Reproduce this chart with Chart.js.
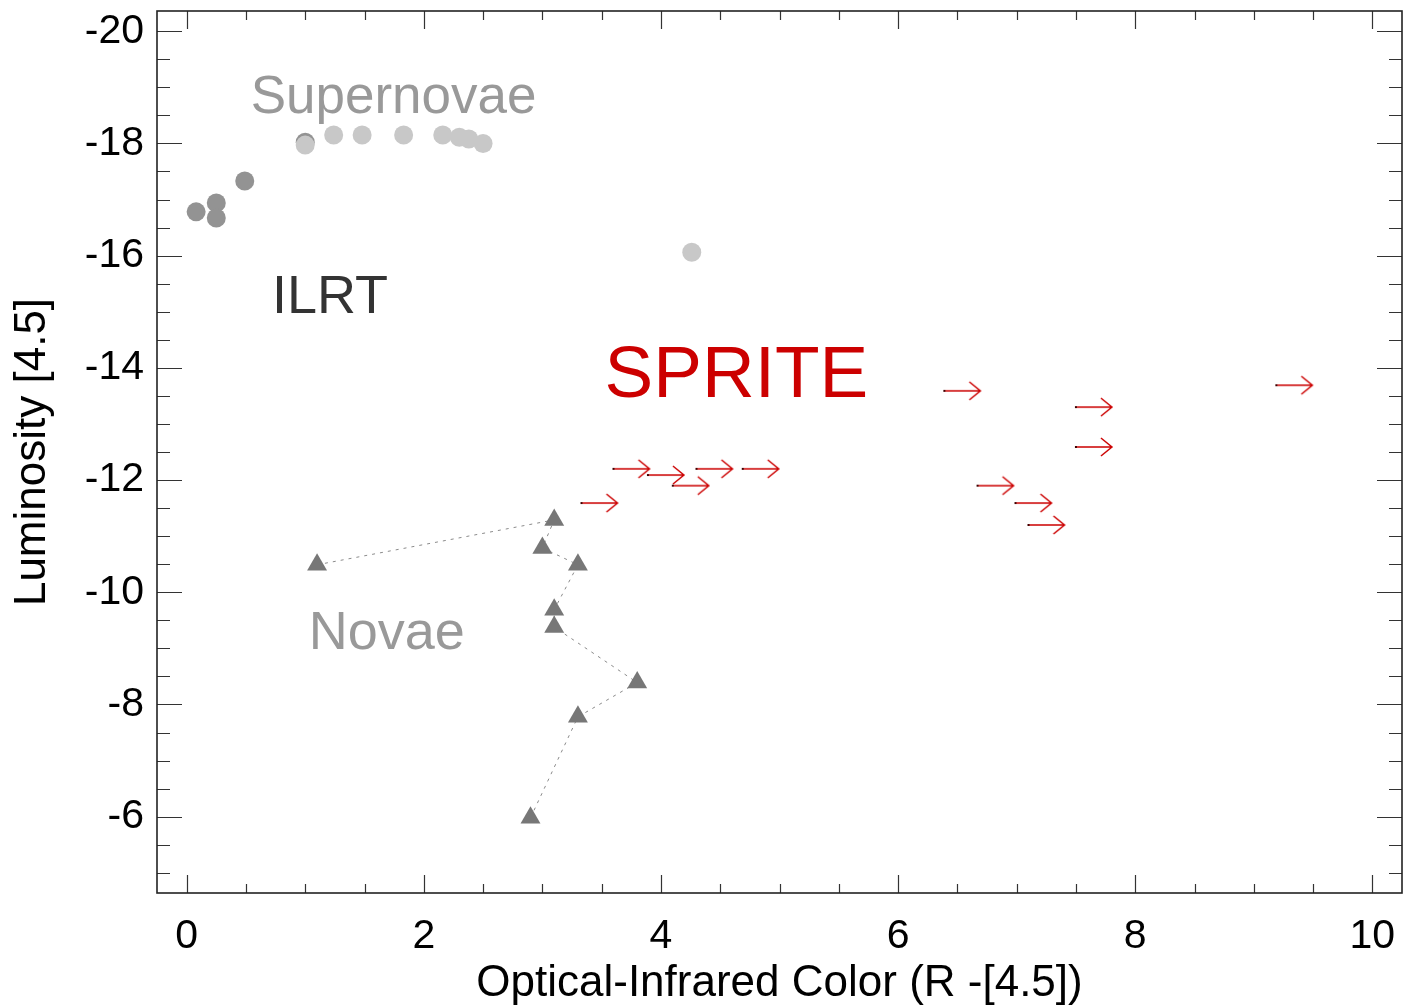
<!DOCTYPE html>
<html>
<head>
<meta charset="utf-8">
<script src="https://cdn.jsdelivr.net/npm/chart.js@4.4.0/dist/chart.umd.min.js"></script>
<style>
  html, body { margin: 0; padding: 0; background: #fff; }
  #wrap { width: 1405px; height: 1008px; }
</style>
</head>
<body>
<div id="wrap"><canvas id="cmd"></canvas></div>
<script>
// ---- data ----
const ilrtColor = [0.08, 0.25, 0.25, 0.49, 1.0];
const ilrtLum   = [-16.78, -16.94, -16.67, -17.33, -18.02];

const snColor = [1.0, 1.24, 1.48, 1.83, 2.16, 2.30, 2.38, 2.50, 4.26];
const snLum   = [-17.97, -18.15, -18.15, -18.15, -18.15, -18.11, -18.08, -18.0, -16.06];

const novaColor = [1.10, 3.10, 3.00, 3.30, 3.10, 3.10, 3.80, 3.30, 2.90];
const novaLum   = [-10.49, -11.29, -10.79, -10.49, -9.69, -9.38, -8.39, -7.78, -5.98];

// SPRITE lower limits on colour (arrow tails)
const spriteColor = [3.33, 3.60, 3.89, 4.10, 4.30, 4.69, 6.39, 6.67, 6.99, 7.10, 7.50, 7.50, 9.19];
const spriteLum   = [-11.59, -12.20, -12.09, -11.90, -12.20, -12.20, -13.59, -11.90, -11.59, -11.20, -13.30, -12.59, -13.69];

const xTicks = [0, 2, 4, 6, 8, 10];
const yTicks = [-20, -18, -16, -14, -12, -10, -8, -6];

// text labels on the plot: [text, x, y, colour, size]
const labels = [
  ['Supernovae', 0.54, -18.55, '#999999', 53],
  ['ILRT',       0.72, -14.98, '#333333', 54],
  ['SPRITE',     3.525, -13.48, '#cc0000', 73],
  ['Novae',      1.03, -8.99,  '#999999', 54]
];

const FONT = '"Liberation Sans", Helvetica, Arial, sans-serif';

function toPoints(xs, ys) {
  return xs.map((x, i) => ({ x: x, y: ys[i] }));
}

// arrow sprite: point sits at the tail, arrow runs to the right
function makeArrow() {
  const len = 36;
  const c = document.createElement('canvas');
  c.width = (len + 3) * 2;
  c.height = 24;
  const g = c.getContext('2d');
  const cx = c.width / 2, cy = c.height / 2;
  g.strokeStyle = '#cc0000';
  g.lineWidth = 1.5;
  g.beginPath();
  g.moveTo(cx, cy);
  g.lineTo(cx + len, cy);
  g.moveTo(cx + len - 11, cy - 9);
  g.lineTo(cx + len, cy);
  g.lineTo(cx + len - 11, cy + 9);
  g.stroke();
  g.fillStyle = '#400000';
  g.fillRect(cx - 1, cy - 1, 2, 2);
  return c;
}

// box frame with inward ticks on all four sides
const framePlugin = {
  id: 'frame',
  afterDatasetsDraw(chart) {
    const ctx = chart.ctx;
    const a = chart.chartArea;
    const xs = chart.scales.x, ys = chart.scales.y;
    ctx.save();
    ctx.strokeStyle = '#333';
    ctx.lineWidth = 1.2;
    ctx.beginPath();
    for (let v = 0; v <= 10.001; v += 0.5) {
      const px = Math.round(xs.getPixelForValue(v)) + 0.5;
      const L = (Math.abs(v % 2) < 1e-6) ? 18 : 9;
      ctx.moveTo(px, a.bottom); ctx.lineTo(px, a.bottom - L);
      ctx.moveTo(px, a.top);    ctx.lineTo(px, a.top + L);
    }
    for (let v = -20; v <= -5 + 1e-6; v += 0.5) {
      const py = Math.round(ys.getPixelForValue(v)) + 0.5;
      const L = (Math.abs(v % 2) < 1e-6) ? 25 : 13;
      ctx.moveTo(a.left, py);  ctx.lineTo(a.left + L, py);
      ctx.moveTo(a.right, py); ctx.lineTo(a.right - L, py);
    }
    ctx.stroke();
    ctx.lineWidth = 1.6;
    ctx.strokeStyle = '#222';
    ctx.strokeRect(a.left, a.top, a.right - a.left, a.bottom - a.top);

    // region labels
    ctx.textAlign = 'left';
    ctx.textBaseline = 'alphabetic';
    labels.forEach(l => {
      ctx.fillStyle = l[3];
      ctx.font = l[4] + 'px ' + FONT;
      ctx.fillText(l[0], xs.getPixelForValue(l[1]), ys.getPixelForValue(l[2]));
    });
    ctx.restore();
  }
};

new Chart(document.getElementById('cmd').getContext('2d'), {
  type: 'scatter',
  data: {
    datasets: [
      {
        label: 'SPRITE',
        data: toPoints(spriteColor, spriteLum),
        pointStyle: makeArrow(),
        pointRadius: 5,
        order: 0
      },
      {
        label: 'Supernovae',
        data: toPoints(snColor, snLum),
        pointStyle: 'circle',
        pointRadius: 9.5,
        pointBackgroundColor: '#c8c8c8',
        pointBorderWidth: 0,
        order: 1
      },
      {
        label: 'ILRT',
        data: toPoints(ilrtColor, ilrtLum),
        pointStyle: 'circle',
        pointRadius: 9.5,
        pointBackgroundColor: '#939393',
        pointBorderWidth: 0,
        order: 2
      },
      {
        label: 'Novae',
        data: toPoints(novaColor, novaLum),
        showLine: true,
        borderColor: '#8a8a8a',
        borderWidth: 1,
        borderDash: [3, 5],
        pointStyle: 'triangle',
        pointRadius: 11.5,
        pointBackgroundColor: '#777777',
        pointBorderWidth: 0,
        order: 3
      }
    ]
  },
  options: {
    responsive: true,
    maintainAspectRatio: false,
    animation: false,
    events: [],
    layout: {
      autoPadding: false,
      padding: { top: 11, right: 3, left: 0, bottom: 0 }
    },
    plugins: {
      legend: { display: false },
      tooltip: { enabled: false }
    },
    scales: {
      x: {
        type: 'linear',
        min: -0.25,
        max: 10.25,
        afterBuildTicks: s => { s.ticks = xTicks.map(v => ({ value: v })); },
        afterFit: s => { s.height = 115; s.paddingLeft = 0; s.paddingRight = 0; },
        grid: { display: false, drawTicks: false },
        border: { display: false },
        ticks: {
          color: '#000',
          padding: 19,
          maxRotation: 0,
          font: { family: FONT, size: 41 }
        },
        title: {
          display: true,
          text: 'Optical-Infrared Color (R -[4.5])',
          color: '#000',
          padding: { top: 0, bottom: 2 },
          font: { family: FONT, size: 44, lineHeight: 1 }
        }
      },
      y: {
        type: 'linear',
        reverse: true,
        min: -20.36,
        max: -4.64,
        afterBuildTicks: s => { s.ticks = yTicks.map(v => ({ value: v })); },
        afterFit: s => { s.width = 157; s.paddingTop = 0; s.paddingBottom = 0; },
        grid: { display: false, drawTicks: false },
        border: { display: false },
        ticks: {
          color: '#000',
          padding: 13,
          font: { family: FONT, size: 41 }
        },
        title: {
          display: true,
          text: 'Luminosity [4.5]',
          color: '#000',
          padding: { top: 11, bottom: 0 },
          font: { family: FONT, size: 44, lineHeight: 1 }
        }
      }
    }
  },
  plugins: [framePlugin]
});
</script>
</body>
</html>
